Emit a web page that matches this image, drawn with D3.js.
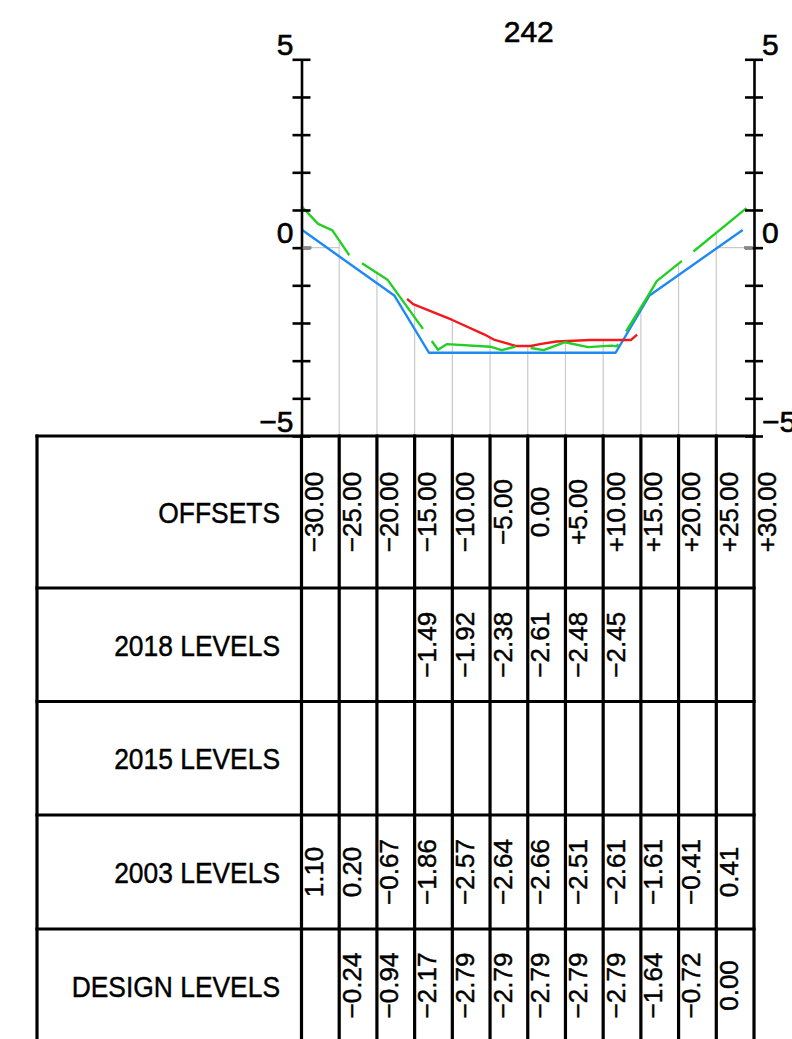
<!DOCTYPE html>
<html>
<head>
<meta charset="utf-8">
<script src="https://cdn.jsdelivr.net/npm/d3@7"></script>
<style>
  html, body { margin: 0; padding: 0; background: #fff; }
  svg { display: block; font-family: "Liberation Sans", Arial, sans-serif; }
</style>
</head>
<body>
<svg id="chart" width="792" height="1039"></svg>
<script>
// ---------------- DATA ----------------
const title = "242";
const offsets = [-30, -25, -20, -15, -10, -5, 0, 5, 10, 15, 20, 25, 30];
const rowNames = ["OFFSETS", "2018 LEVELS", "2015 LEVELS", "2003 LEVELS", "DESIGN LEVELS"];
// tabulated values for offsets -30 .. +25 (null = blank cell)
const levels2018   = [null, null, null, -1.49, -1.92, -2.38, -2.61, -2.48, -2.45, null, null, null];
const levels2015   = [null, null, null, null, null, null, null, null, null, null, null, null];
const levels2003   = [1.10, 0.20, -0.67, -1.86, -2.57, -2.64, -2.66, -2.51, -2.61, -1.61, -0.41, 0.41];
const levelsDesign = [null, -0.24, -0.94, -2.17, -2.79, -2.79, -2.79, -2.79, -2.79, -1.64, -0.72, 0.00];
// surveyed profiles [offset, level]
const profile2003 = [[-30, 1.10], [-27.8, 0.63], [-25.9, 0.46], [-23.7, -0.19], [-18.6, -0.85],
  [-11.9, -2.71], [-10.7, -2.56], [-5.0, -2.63], [-3.45, -2.72], [-1.7, -2.63], [0.3, -2.66],
  [2.1, -2.72], [4.95, -2.51], [8.0, -2.64], [11.1, -2.60], [11.8, -2.62], [15.8, -1.33],
  [17.1, -0.89], [20.2, -0.39], [29.0, 1.05]];
const profile2018 = [[-16.0, -1.36], [-15.2, -1.50], [-10.0, -1.92], [-5.8, -2.30], [-4.5, -2.44],
  [-1.6, -2.61], [0.4, -2.61], [1.6, -2.56], [3.8, -2.49], [8.3, -2.45], [13.7, -2.45], [14.5, -2.31]];
const profileDesign = [[-30, 0.48], [-17.7, -1.27], [-13.1, -2.79], [11.65, -2.79], [16.15, -1.27], [28.5, 0.47]];
const yTicks = [-5, -4, -3, -2, -1, 0, 1, 2, 3, 4, 5];
const yLabelValues = [5, 0, -5];

// ---------------- LAYOUT ----------------
const svg = d3.select("#chart");
const x = d3.scaleLinear().domain([-30, 30]).range([301.5, 754]);
const y = d3.scaleLinear().domain([-5, 5]).range([436, 59.3]);
const minus = s => s.replace("-", "\u2212");
const fmtLevel = d => minus(d3.format(".2f")(d));
const fmtOffset = d => d > 0 ? "+" + d3.format(".2f")(d) : minus(d3.format(".2f")(d));

const tableLeft = 37;
const rowEdges = [436, 588, 701.5, 815, 929, 1042];
const GREEN = "#22cf22", RED = "#f2181c", BLUE = "#1d89f2";
const TEXT_STROKE = 0.45;

// title
svg.append("text").attr("x", x(0) + 1).attr("y", 42).attr("text-anchor", "middle")
  .attr("font-size", 30).attr("fill", "#000")
  .attr("stroke", "#000").attr("stroke-width", 0.6).text(title);

// grid: verticals up to highest surveyed level at each offset
const gridG = svg.append("g").attr("stroke", "#c9c9c9").attr("stroke-width", 1.2);
offsets.slice(1, 12).forEach((o, i) => {
  const idx = i + 1;
  const tops = [levels2018[idx], levels2003[idx]].filter(v => v !== null);
  const top = d3.max(tops);
  gridG.append("line").attr("x1", x(o)).attr("x2", x(o)).attr("y1", y(-5)).attr("y2", y(top));
});
gridG.append("line").attr("x1", x(-30)).attr("x2", x(-25)).attr("y1", y(0)).attr("y2", y(0));
gridG.append("line").attr("x1", x(25)).attr("x2", x(30)).attr("y1", y(0)).attr("y2", y(0));

// profiles
const line = d3.line().x(d => x(d[0])).y(d => y(d[1]));
svg.append("path").datum(profileDesign).attr("d", line).attr("fill", "none")
  .attr("stroke", BLUE).attr("stroke-width", 2.4).attr("stroke-linejoin", "round");
svg.append("path").datum(profile2018).attr("d", line).attr("fill", "none")
  .attr("stroke", RED).attr("stroke-width", 2.4).attr("stroke-linejoin", "round");
svg.append("path").datum(profile2003).attr("d", line).attr("fill", "none")
  .attr("stroke", GREEN).attr("stroke-width", 2.4).attr("stroke-linejoin", "round")
  .attr("stroke-dasharray", "91,15").attr("stroke-dashoffset", 21);

// axes
function styleAxis(g, side) {
  g.select(".domain").attr("stroke", "#000").attr("stroke-width", 2.6);
  g.selectAll(".tick line").attr("x1", -9).attr("x2", 9).attr("stroke", "#000").attr("stroke-width", 2.6);
  g.selectAll(".tick text")
    .attr("x", side === "left" ? -8 : 8)
    .attr("dy", -5)
    .attr("text-anchor", side === "left" ? "end" : "start")
    .attr("font-size", 30)
    .attr("font-family", "Liberation Sans, Arial, sans-serif")
    .attr("fill", "#000")
    .attr("stroke", "#000").attr("stroke-width", 0.6);
}
const tickFmt = d => yLabelValues.includes(d) ? minus(String(d)) : "";
const leftAxis = svg.append("g").attr("transform", `translate(${x(-30)},0)`)
  .call(d3.axisLeft(y).tickValues(yTicks).tickSizeOuter(0).tickFormat(tickFmt));
styleAxis(leftAxis, "left");
const rightAxis = svg.append("g").attr("transform", `translate(${x(30)},0)`)
  .call(d3.axisRight(y).tickValues(yTicks).tickSizeOuter(0).tickFormat(tickFmt));
styleAxis(rightAxis, "right");
// datum tick inner halves in grey
svg.append("line").attr("x1", x(-30) + 1.3).attr("x2", x(-30) + 10).attr("y1", y(0)).attr("y2", y(0))
  .attr("stroke", "#8a8a8a").attr("stroke-width", 3);
svg.append("line").attr("x1", x(30) - 10).attr("x2", x(30) - 1.3).attr("y1", y(0)).attr("y2", y(0))
  .attr("stroke", "#8a8a8a").attr("stroke-width", 3);

// ---------------- TABLE ----------------
const tbl = svg.append("g").attr("stroke", "#000").attr("stroke-width", 3.2);
rowEdges.forEach(ry => {
  tbl.append("line").attr("x1", tableLeft - 1.6).attr("x2", x(30) + 1.6).attr("y1", ry).attr("y2", ry);
});
tbl.append("line").attr("x1", tableLeft).attr("x2", tableLeft).attr("y1", rowEdges[0] - 1.6).attr("y2", 1045);
offsets.forEach(o => {
  tbl.append("line").attr("x1", x(o)).attr("x2", x(o)).attr("y1", rowEdges[0] - 1.6).attr("y2", 1045);
});

// row labels
rowNames.forEach((name, i) => {
  const cy = (rowEdges[i] + rowEdges[i + 1]) / 2;
  svg.append("text")
    .attr("transform", `translate(280,${cy + 11}) scale(0.88,1)`)
    .attr("text-anchor", "end").attr("font-size", 30).attr("fill", "#000")
    .attr("stroke", "#000").attr("stroke-width", TEXT_STROKE).text(name);
});

// cell values (rotated)
function rotatedCell(o, rowIdx, txt) {
  const cy = (rowEdges[rowIdx] + rowEdges[rowIdx + 1]) / 2;
  svg.append("text")
    .attr("transform", `translate(${x(o) + 21.5},${cy}) rotate(-90)`)
    .attr("text-anchor", "middle").attr("font-size", 26).attr("fill", "#000")
    .attr("stroke", "#000").attr("stroke-width", TEXT_STROKE).text(txt);
}
offsets.forEach(o => rotatedCell(o, 0, fmtOffset(o)));
[levels2018, levels2015, levels2003, levelsDesign].forEach((arr, r) => {
  arr.forEach((v, i) => { if (v !== null) rotatedCell(offsets[i], r + 1, fmtLevel(v)); });
});
</script>
</body>
</html>
